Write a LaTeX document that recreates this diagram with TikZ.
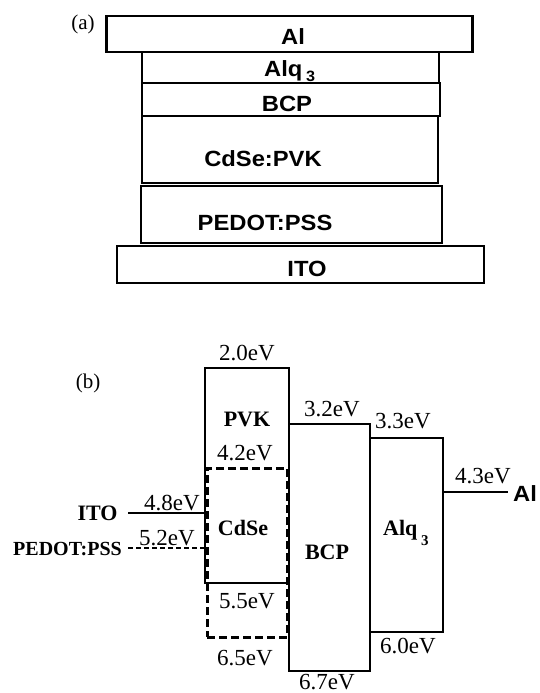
\documentclass[tikz,border=0pt]{standalone}
\usepackage{fontspec}
\setmainfont{Liberation Serif}
\newfontfamily\layerfont{Liberation Sans}[FakeStretch=1.08]
\usetikzlibrary{positioning}
\newcommand{\lowthree}[1]{\,\raisebox{-#1}[0pt][0pt]{\fontsize{15}{15}\selectfont 3}}

\tikzset{
  layerbox/.style={draw,line width=2.8pt,inner sep=0pt},
  layertext/.style={font=\layerfont\bfseries\fontsize{22}{22}\selectfont,inner sep=0pt},
  panellabel/.style={font=\fontsize{21}{21}\selectfont,inner sep=0pt},
  bandbox/.style={draw,line width=1.6pt,inner sep=0pt},
  cdsebox/.style={draw,line width=3pt,dash pattern=on 8pt off 4pt,inner sep=0pt},
  evtext/.style={font=\fontsize{23}{23}\selectfont,inner sep=0pt,anchor=base},
  bandtext/.style={font=\bfseries\fontsize{22}{22}\selectfont,inner sep=0pt,anchor=base},
}

\begin{document}
\begin{tikzpicture}[x=1pt,y=-1pt]
\useasboundingbox (0,0) rectangle (539,693);
% (a) device stack
\node[panellabel,anchor=base] (labelA) at (83,30) {(a)};
\node[layerbox,minimum width=366pt,minimum height=36pt] (alLayer) at (289.8,34) {};
\node[layerbox,minimum width=297pt,minimum height=31pt] (alqLayer) at (290.5,67.5) {};
\node[layerbox,minimum width=298pt,minimum height=33pt] (bcpLayer) at (291,99.5) {};
\node[layerbox,minimum width=296pt,minimum height=67pt] (activeLayer) at (290,149.5) {};
\node[layerbox,minimum width=301pt,minimum height=57pt] (pedotLayer) at (291.5,214.5) {};
\node[layerbox,minimum width=367pt,minimum height=37pt] (itoLayer) at (300.5,264.5) {};
\node[layertext,anchor=base] (alName) at (293,45) {Al};
\node[layertext,anchor=base west] (alqName) at (264,76.7) {Alq\lowthree{5pt}};
\node[layertext,anchor=base] (bcpName) at (287,111.7) {BCP};
\node[layertext,anchor=base] (activeName) at (263,166.7) {CdSe:PVK};
\node[layertext,anchor=base] (pedotName) at (265,230) {PEDOT:PSS};
\node[layertext,anchor=base] (itoName) at (307,276.7) {ITO};

% (b) energy levels
\node[panellabel,anchor=base] (labelB) at (88,388) {(b)};
\node[bandbox,minimum width=84pt,minimum height=215pt] (pvkBand) at (247,475.5) {};
\node[cdsebox,minimum width=80pt,minimum height=169pt] (cdseBand) at (247,552.5) {};
\node[bandbox,minimum width=81pt,minimum height=247pt] (bcpBand) at (329.5,547.5) {};
\node[bandbox,minimum width=73pt,minimum height=194pt] (alqBand) at (406.5,535) {};

\coordinate (itoLvl) at (128,513);
\coordinate (pedotLvl) at (128,548);
\coordinate (alLvl) at (508,492);
\draw[line width=1.6pt] (itoLvl) -- (itoLvl -| pvkBand.west);
\draw[line width=1.4pt,dash pattern=on 5pt off 3pt] (pedotLvl) -- (pedotLvl -| pvkBand.west);
\draw[line width=1.6pt] (alLvl -| alqBand.east) -- (alLvl);

\node[bandtext] (pvkName) at (247,426.7) {PVK};
\node[bandtext] (cdseName) at (243,535) {CdSe};
\node[bandtext] (bcpBandName) at (327,559) {BCP};
\node[bandtext,anchor=base west] (alqBandName) at (383,535) {Alq\lowthree{10pt}};
\node[bandtext] (itoBandName) at (97.5,520) {ITO};
\node[bandtext,font=\bfseries\fontsize{20}{20}\selectfont] (pedotBandName) at (67.5,555) {PEDOT:PSS};
\node[layertext,anchor=base west] (alBandName) at (513,501.7) {Al};

\node[evtext] (pvkLumo) at (247,360) {2.0eV};
\node[evtext] (cdseLumo) at (245,460) {4.2eV};
\node[evtext] (pvkHomo) at (247,608) {5.5eV};
\node[evtext] (cdseHomo) at (245,665) {6.5eV};
\node[evtext] (bcpLumo) at (332,416.7) {3.2eV};
\node[evtext] (bcpHomo) at (327,689) {6.7eV};
\node[evtext] (alqLumo) at (403,428) {3.3eV};
\node[evtext] (alqHomo) at (408,653) {6.0eV};
\node[evtext] (itoWork) at (172,510) {4.8eV};
\node[evtext] (pedotWork) at (167,545) {5.2eV};
\node[evtext] (alWork) at (483,483) {4.3eV};
\end{tikzpicture}
\end{document}
